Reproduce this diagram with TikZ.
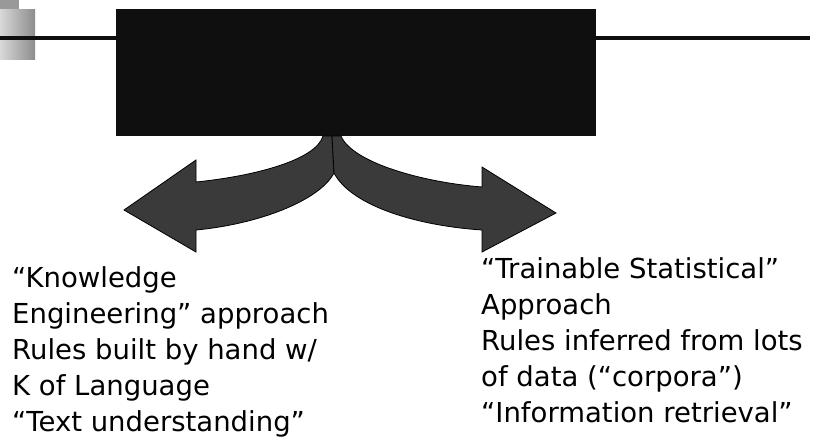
\documentclass[tikz,border=0pt]{standalone}
\usepackage{fontspec}
\setmainfont{DejaVu Sans}
\usetikzlibrary{calc}

\definecolor{boxblack}{HTML}{0F0F0F}
\definecolor{arrowgray}{HTML}{3A3A3A}
\definecolor{tabgray}{HTML}{999999}

\tikzset{
  titlebox/.style={fill=boxblack, draw=none, inner sep=0pt, minimum width=480pt, minimum height=127pt},
  approach/.style={anchor=north west, inner sep=0pt, align=left,
    font=\fontsize{27.5}{36.2}\selectfont},
  bigarrow/.style={fill=arrowgray, draw=black, line width=0.8pt, line join=miter}
}

\begin{document}
\begin{tikzpicture}[x=1pt, y=-1pt]
            \useasboundingbox (0,0) rectangle (820,447);

            % corner tab
            \fill[tabgray] (0,0) rectangle (19,9);
            \shade[left color=black!15, right color=black!45] (0,9) rectangle (35,59);

            % title rule and box
            \fill[boxblack] (0,36) rectangle (810,40);
            \node[titlebox, anchor=north west] at (116,9) (title) {};

            % the two approaches
            \node[approach] at (12,266) (knowledge) {``Knowledge\\Engineering'' approach\\Rules built by hand w/\\K of Language\\``Text understanding''};
            \node[approach] at (481,257) (trainable) {``Trainable Statistical''\\Approach\\Rules inferred from lots\\of data (``corpora'')\\``Information retrieval''};

            \coordinate (split) at (332,136);
            \coordinate (fork) at (334,173);

            % left arrow
            \draw[bigarrow] (split) -- (fork)
              .. controls (320,200) and (260,224) .. (196,230)
              -- (196,252) -- (124,210) -- (196,160) -- (196,182)
              .. controls (255,176) and (316,160) .. (323,136) -- cycle;

            % right arrow
            \draw[bigarrow] (split) -- (fork)
              .. controls (352,207) and (420,226) .. (482,230)
              -- (482,252) -- (556,213) -- (482,167) -- (482,187)
              .. controls (420,182) and (352,162) .. (341,136) -- cycle;
\end{tikzpicture}
\end{document}
